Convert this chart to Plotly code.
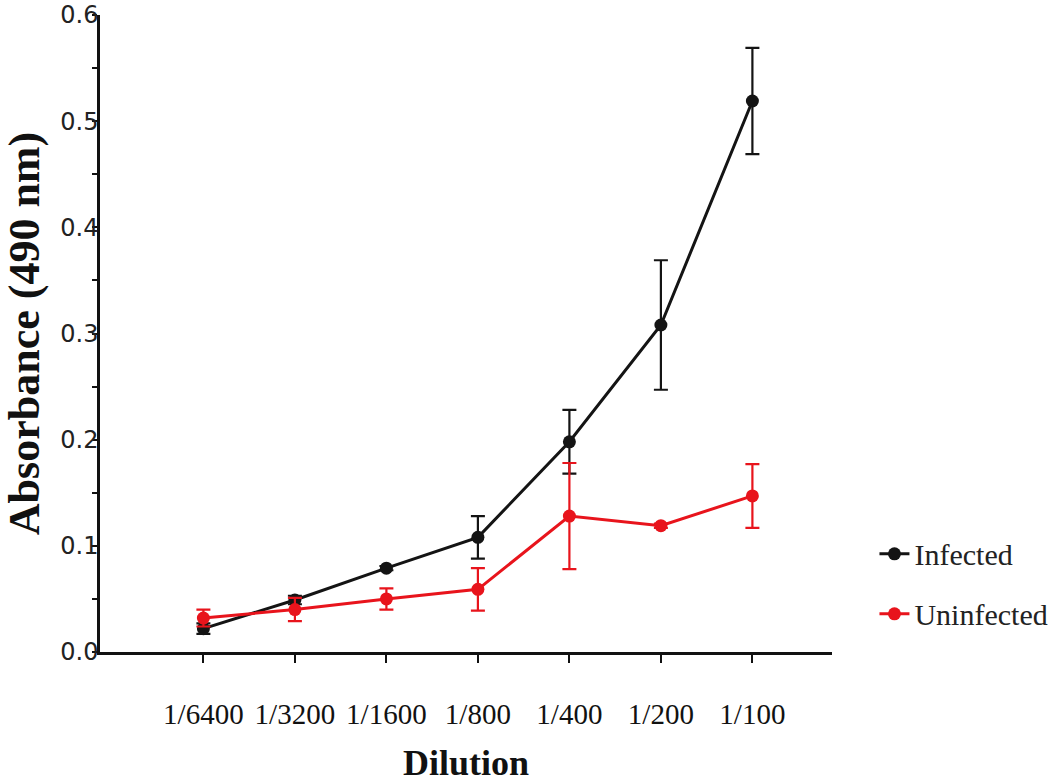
import plotly.graph_objects as go

dilutions = ["1/6400", "1/3200", "1/1600", "1/800", "1/400", "1/200", "1/100"]
infected = [0.022, 0.049, 0.079, 0.108, 0.198, 0.308, 0.519]
infected_err = [0.005, 0.004, 0.002, 0.020, 0.030, 0.061, 0.050]
uninfected = [0.032, 0.040, 0.050, 0.059, 0.128, 0.119, 0.147]
uninfected_err = [0.008, 0.011, 0.010, 0.020, 0.050, 0.002, 0.030]
y_ticks = [0.0, 0.1, 0.2, 0.3, 0.4, 0.5, 0.6]
y_tick_text = ["0.0", "0.1", "0.2", "0.3", "0.4", "0.5", "0.6"]

BLACK = "#141414"
RED = "#e8141c"

fig = go.Figure()
fig.add_trace(go.Scatter(
    x=dilutions, y=infected, name="Infected", mode="lines+markers",
    line=dict(color=BLACK, width=3), marker=dict(color=BLACK, size=13),
    error_y=dict(type="data", array=infected_err, color=BLACK, thickness=2.2, width=7),
    legendgroup="a", cliponaxis=False,
))
fig.add_trace(go.Scatter(
    x=dilutions, y=uninfected, name="Uninfected", mode="lines+markers",
    line=dict(color=RED, width=3), marker=dict(color=RED, size=13),
    error_y=dict(type="data", array=uninfected_err, color=RED, thickness=2.2, width=7),
    legendgroup="b", cliponaxis=False,
))

fig.update_layout(
    width=1061, height=783,
    margin=dict(l=100, r=229, t=15, b=131, autoexpand=False),
    paper_bgcolor="white", plot_bgcolor="white",
    showlegend=True,
    legend=dict(
        x=1.058, y=0.195, xanchor="left", yanchor="top",
        font=dict(family="Liberation Serif", size=30, color="#222"),
        tracegroupgap=18, bgcolor="rgba(0,0,0,0)",
    ),
    xaxis=dict(
        type="category", range=[-1.13, 6.87], automargin=False,
        showline=True, linecolor="#111", linewidth=2.5,
        ticks="outside", ticklen=8, tickwidth=2, tickcolor="#111",
        tickfont=dict(family="Liberation Serif", size=29, color="#111"),
        ticklabelstandoff=26,
        showgrid=False, zeroline=False,
        title=dict(text="<b>Dilution</b>", font=dict(family="Liberation Serif", size=36, color="#111"), standoff=22),
    ),
    yaxis=dict(
        range=[0, 0.6], tickvals=y_ticks, ticktext=y_tick_text, automargin=False,
        showline=True, linecolor="#111", linewidth=2.5,
        ticks="", ticklabelstandoff=-6,
        minor=dict(dtick=0.05, ticks="outside", ticklen=5, tickwidth=2, tickcolor="#111", showgrid=False),
        tickfont=dict(family="DejaVu Sans", size=24, color="#222"),
        showgrid=False, zeroline=False,
        title=dict(text="<b>Absorbance (490 nm)</b>", font=dict(family="Liberation Serif", size=44, color="#111"), standoff=8),
    ),
)

fig.write_html("out.html")
